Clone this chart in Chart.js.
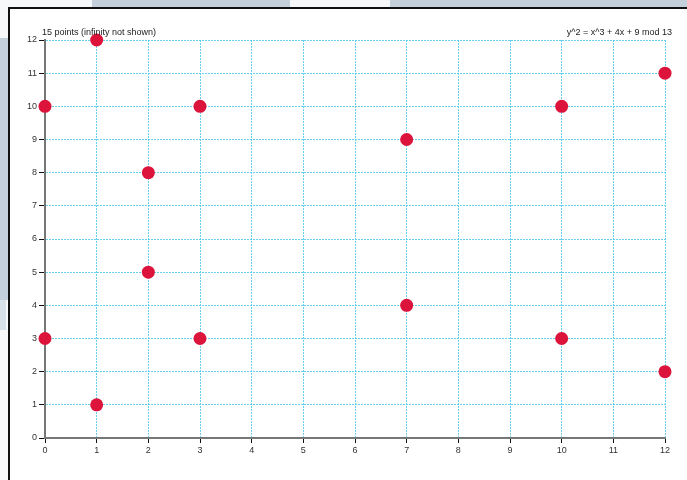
<!DOCTYPE html>
<html>
<head>
<meta charset="utf-8">
<script src="https://cdn.jsdelivr.net/npm/chart.js@4"></script>
<style>
  html, body { margin:0; padding:0; width:687px; height:480px; overflow:hidden; background:#f7f8fa; }
  .bg { position:absolute; background:#c3d0dc; }
  #panel { position:absolute; left:8px; top:7px; width:700px; height:500px; border-left:2px solid #111; border-top:2px solid #111; background:#fff; }
  #wrap { position:absolute; left:0; top:0; width:687px; height:480px; }
</style>
</head>
<body>
<div class="bg" style="left:92px;top:0;width:198px;height:8px;"></div>
<div class="bg" style="left:390px;top:0;width:297px;height:8px;"></div>
<div class="bg" style="left:0;top:38px;width:8px;height:262px;"></div>
<div class="bg" style="left:0;top:300px;width:6px;height:30px;opacity:0.6;"></div>
<div id="panel"></div>
<div id="wrap"><canvas id="c" width="687" height="480"></canvas></div>
<script>
const xValues = [0, 0, 1, 1, 2, 2, 3, 3, 7, 7, 10, 10, 12, 12];
const yValues = [3, 10, 1, 12, 5, 8, 3, 10, 4, 9, 3, 10, 2, 11];
const leftTitle = '15 points (infinity not shown)';
const rightTitle = 'y^2 = x^3 + 4x + 9 mod 13';

const points = xValues.map((x, i) => ({ x: x, y: yValues[i] }));

const titles = {
  id: 'titles',
  afterDraw(chart) {
    const { ctx, chartArea } = chart;
    ctx.save();
    ctx.font = '9px "Liberation Sans", Arial, sans-serif';
    ctx.fillStyle = '#222';
    ctx.textBaseline = 'alphabetic';
    ctx.textAlign = 'left';
    ctx.fillText(leftTitle, chartArea.left - 3, chartArea.top - 5);
    ctx.textAlign = 'right';
    ctx.fillText(rightTitle, chartArea.right + 7, chartArea.top - 5);
    ctx.restore();
  }
};

const gridColor = 'rgba(80,200,240,0.85)';
const tickFont = { size: 9, family: '"Liberation Sans", Arial, sans-serif' };
new Chart(document.getElementById('c'), {
  type: 'scatter',
  data: { datasets: [{
    data: points,
    backgroundColor: '#dc143c',
    borderColor: '#dc143c',
    borderWidth: 0,
    pointRadius: 6.5,
    pointHoverRadius: 6.5,
    clip: false
  }]},
  options: {
    responsive: false,
    animation: false,
    layout: { padding: { left: 0, right: 22, top: 40, bottom: 12 } },
    plugins: { legend: { display: false }, tooltip: { enabled: false } },
    scales: {
      x: {
        type: 'linear', min: 0, max: 12,
        ticks: { stepSize: 1, color: '#333', font: tickFont, padding: 2 },
        grid: { color: gridColor, lineWidth: 1, tickColor: '#111', tickLength: 5, drawTicks: true, tickBorderDash: [] },
        border: { display: true, color: '#777', width: 2, dash: [2, 1] },
        afterFit(s) { s.height = 30; }
      },
      y: {
        type: 'linear', min: 0, max: 12,
        ticks: { stepSize: 1, color: '#333', font: tickFont, padding: 2 },
        grid: { color: gridColor, lineWidth: 1, tickColor: '#111', tickLength: 6, drawTicks: true, tickBorderDash: [] },
        border: { display: true, color: '#777', width: 2, dash: [2, 1] },
        afterFit(s) { s.width = 45; }
      }
    }
  },
  plugins: [titles]
});
</script>
</body>
</html>
